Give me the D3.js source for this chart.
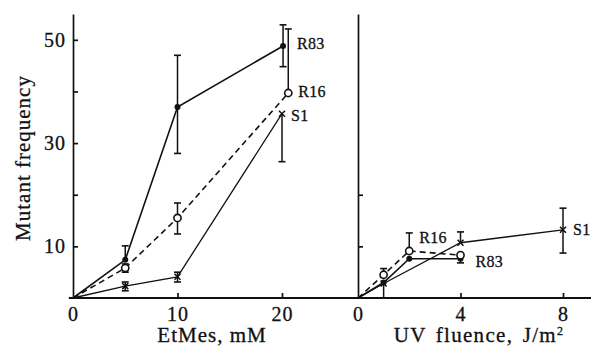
<!DOCTYPE html>
<html>
<head>
<meta charset="utf-8">
<script src="https://cdn.jsdelivr.net/npm/d3@7"></script>
<style>
  body { margin: 0; background: #fff; }
  text { font-family: "Liberation Serif", "Times New Roman", serif; fill: #111; stroke: #111; stroke-width: 0.3; }
</style>
</head>
<body>
<div id="myplot"></div>
<script>
// EtMes panel (dose in mM)
var r83EtX = [0, 5, 10, 20.1];
var r83EtY = [0, 7.4, 37, 48.8];
var r83EtLo = [null, null, 28, 44.8];
var r83EtHi = [null, 10.1, 47, 52.9];

var r16EtX = [0, 5, 10, 20.6];
var r16EtY = [0, 5.8, 15.5, 39.7];
var r16EtLo = [null, 5, 12.4, null];
var r16EtHi = [null, 6.6, 18.4, 52.1];

var s1EtX = [0, 5, 10, 20];
var s1EtY = [0, 2.3, 4.1, 35.7];
var s1EtLo = [null, 1.4, 3.1, 26.4];
var s1EtHi = [null, 3.1, 5, null];

// UV panel (fluence in J/m2)
var s1UvX = [0, 1, 4, 8];
var s1UvY = [0, 2.8, 10.7, 13.2];
var s1UvLo = [null, 0, null, 8.7];
var s1UvHi = [null, null, 12.8, 17.4];

var r83UvX = [0, 1, 2, 4];
var r83UvY = [0, 3, 7.6, 7.6];
var r83UvLo = [null, null, null, 6.8];
var r83UvHi = [null, null, null, null];

var r16UvX = [0, 1, 2, 4];
var r16UvY = [0, 4.5, 9.1, 8.3];
var r16UvLo = [null, null, null, null];
var r16UvHi = [null, 5.7, 12.6, null];

var yTicks = [10, 20, 30, 40, 50];
var yLabels = [10, 30, 50];
var etTicks = [0, 10, 20];
var uvTicks = [0, 4, 8];

var svg = d3.select('div#myplot')
  .append('svg')
  .attr('width', 591)
  .attr('height', 350);

var y = d3.scaleLinear().domain([0, 55]).range([298, 14]);
var xEt = d3.scaleLinear().domain([0, 20]).range([73, 282]);
var xUv = d3.scaleLinear().domain([0, 8]).range([358, 563]);

function zip(xs, ys, lo, hi) {
  return xs.map((d, i) => ({x: d, y: ys[i], lo: lo[i], hi: hi[i]}));
}

// axes
var yAxisL = svg.append('g')
  .attr('transform', 'translate(' + xEt(0) + ',0)')
  .call(d3.axisLeft(y).tickValues(yTicks).tickSizeInner(-5).tickSizeOuter(0).tickPadding(7)
    .tickFormat(d => yLabels.indexOf(d) >= 0 ? d : ''));

var yAxisR = svg.append('g')
  .attr('transform', 'translate(' + xUv(0) + ',0)')
  .call(d3.axisLeft(y).tickValues([10, 20]).tickSizeInner(-5).tickSizeOuter(0).tickFormat(''));

var xAxisL = svg.append('g')
  .attr('transform', 'translate(0,' + y(0) + ')')
  .call(d3.axisBottom(xEt).tickValues(etTicks).tickSizeInner(-5).tickSizeOuter(0).tickPadding(9));

var xAxisR = svg.append('g')
  .attr('transform', 'translate(0,' + y(0) + ')')
  .call(d3.axisBottom(xUv).tickValues(uvTicks).tickSizeInner(-5).tickSizeOuter(0).tickPadding(9));

[yAxisL, yAxisR, xAxisL, xAxisR].forEach(function (g) {
  g.selectAll('path, line').attr('stroke', '#111').attr('stroke-width', 1.7);
  g.selectAll('text').attr('font-size', 20).attr('letter-spacing', 1)
    .attr('font-family', '"Liberation Serif", serif').attr('fill', '#111');
});
xAxisL.select('.domain').remove();
xAxisR.select('.domain').remove();
xAxisL.selectAll('.tick').filter(d => d == 0).select('line').remove();
xAxisR.selectAll('.tick').filter(d => d == 0).select('line').remove();

// continuous baseline across both panels
svg.append('line')
  .attr('x1', xEt(-0.4)).attr('x2', 591)
  .attr('y1', y(0)).attr('y2', y(0))
  .attr('stroke', '#111').attr('stroke-width', 1.8);

// titles
svg.append('text')
  .attr('x', 212).attr('y', 342)
  .attr('text-anchor', 'middle')
  .attr('font-size', 21).attr('letter-spacing', 1)
  .text('EtMes, mM');

var uvTitle = svg.append('text')
  .attr('x', 479).attr('y', 342)
  .attr('text-anchor', 'middle')
  .attr('font-size', 21).attr('letter-spacing', 1.3).attr('word-spacing', 3);
uvTitle.append('tspan').text('UV fluence, J/m');
uvTitle.append('tspan').attr('font-size', 12).attr('dy', -7).text('2');

svg.append('text')
  .attr('transform', 'translate(30,158) rotate(-90)')
  .attr('text-anchor', 'middle')
  .attr('font-size', 21).attr('letter-spacing', 1)
  .text('Mutant frequency');

// series drawing
function drawSeries(data, x, opts) {
  var g = svg.append('g');
  var line = d3.line().x(d => x(d.x)).y(d => y(d.y));

  g.append('path')
    .datum(data)
    .attr('d', line)
    .attr('fill', 'none')
    .attr('stroke', '#111')
    .attr('stroke-width', opts.width)
    .attr('stroke-dasharray', opts.dash || null);

  var bars = data.filter(d => d.lo != null || d.hi != null);
  bars.forEach(function (d) {
    var top = d.hi != null ? d.hi : d.y;
    var bot = d.lo != null ? d.lo : d.y;
    g.append('line')
      .attr('x1', x(d.x)).attr('x2', x(d.x))
      .attr('y1', y(top)).attr('y2', y(bot))
      .attr('stroke', '#111').attr('stroke-width', 1.5);
    if (d.hi != null) {
      g.append('line')
        .attr('x1', x(d.x) - 3.5).attr('x2', x(d.x) + 3.5)
        .attr('y1', y(d.hi)).attr('y2', y(d.hi))
        .attr('stroke', '#111').attr('stroke-width', 1.6);
    }
    if (d.lo != null) {
      g.append('line')
        .attr('x1', x(d.x) - 3.5).attr('x2', x(d.x) + 3.5)
        .attr('y1', y(d.lo)).attr('y2', y(d.lo))
        .attr('stroke', '#111').attr('stroke-width', 1.6);
    }
  });

  var pts = data.filter(d => d.x > 0);
  if (opts.marker == 'dot') {
    g.selectAll('circle').data(pts).enter().append('circle')
      .attr('cx', d => x(d.x)).attr('cy', d => y(d.y))
      .attr('r', 3).attr('fill', '#111');
  } else if (opts.marker == 'ring') {
    g.selectAll('circle').data(pts).enter().append('circle')
      .attr('cx', d => x(d.x)).attr('cy', d => y(d.y))
      .attr('r', 3.6).attr('fill', '#fff')
      .attr('stroke', '#111').attr('stroke-width', 1.6);
  } else {
    pts.forEach(function (d) {
      var cx = x(d.x), cy = y(d.y);
      g.append('path')
        .attr('d', 'M' + (cx - 3) + ',' + (cy - 3) + 'L' + (cx + 3) + ',' + (cy + 3) +
                   'M' + (cx + 3) + ',' + (cy - 3) + 'L' + (cx - 3) + ',' + (cy + 3))
        .attr('stroke', '#111').attr('stroke-width', 1.5);
    });
  }

  if (opts.label) {
    var last = data[opts.labelAt];
    svg.append('text')
      .attr('x', x(last.x) + opts.dx)
      .attr('y', y(last.y) + opts.dy)
      .attr('dy', '0.35em')
      .attr('font-size', 16).attr('letter-spacing', 0.3)
      .text(opts.label);
  }
}

drawSeries(zip(s1EtX, s1EtY, s1EtLo, s1EtHi), xEt, {width: 1.3, marker: 'x', label: 'S1', labelAt: 3, dx: 9, dy: 2});
drawSeries(zip(r16EtX, r16EtY, r16EtLo, r16EtHi), xEt, {width: 1.6, dash: '6,4', marker: 'ring', label: 'R16', labelAt: 3, dx: 10, dy: -2});
drawSeries(zip(r83EtX, r83EtY, r83EtLo, r83EtHi), xEt, {width: 1.6, marker: 'dot', label: 'R83', labelAt: 3, dx: 14, dy: -3});

drawSeries(zip(s1UvX, s1UvY, s1UvLo, s1UvHi), xUv, {width: 1.3, marker: 'x', label: 'S1', labelAt: 3, dx: 10, dy: 0});
drawSeries(zip(r83UvX, r83UvY, r83UvLo, r83UvHi), xUv, {width: 1.6, marker: 'dot', label: 'R83', labelAt: 3, dx: 15, dy: 3});
drawSeries(zip(r16UvX, r16UvY, r16UvLo, r16UvHi), xUv, {width: 1.6, dash: '6,4', marker: 'ring', label: 'R16', labelAt: 2, dx: 10, dy: -14});
</script>
</body>
</html>
